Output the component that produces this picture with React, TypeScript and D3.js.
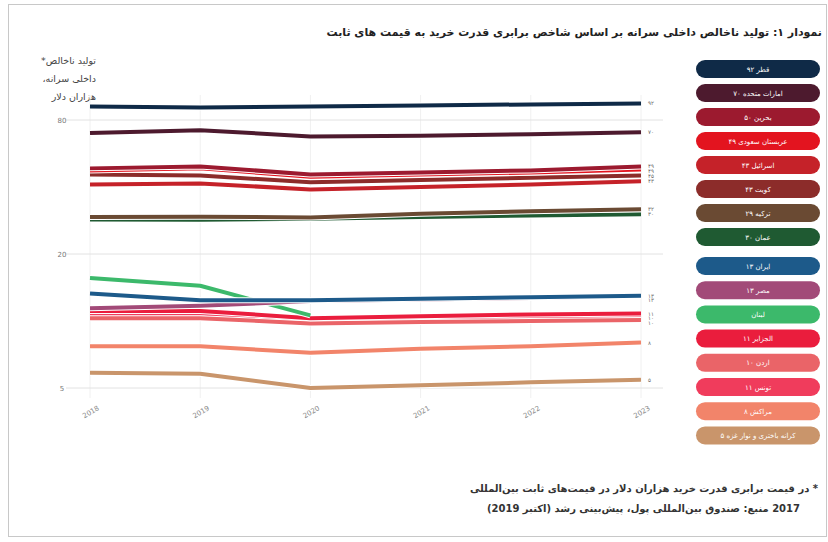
import React from "react";
import * as d3 from "d3";

const years = [2018, 2019, 2020, 2021, 2022, 2023];
const yTicks = [5, 20, 80];
const yTickLabels = ["5", "20", "80"];

const countryNames = [
  "قطر ۹۲",
  "امارات متحده ۷۰",
  "بحرین ۵۰",
  "عربستان سعودی ۴۹",
  "اسرائیل ۴۳",
  "کویت ۴۳",
  "ترکیه ۲۹",
  "عمان ۳۰",
  "ایران ۱۳",
  "مصر ۱۳",
  "لبنان",
  "الجزایر ۱۱",
  "اردن ۱۰",
  "تونس ۱۱",
  "مراکش ۸",
  "کرانه باختری و نوار غزه ۵",
];
const countryColors = [
  "#0f2a47", "#4d1a2e", "#9c1a2f", "#e3141f", "#c52229", "#8c2c2a", "#6a4a33", "#1f5a32",
  "#1d5a8a", "#a24a78", "#3cb96b", "#ea1d3d", "#ea6468", "#f03c5c", "#f2846a", "#c9956b",
];
const endLabels = ["۹۲", "۷۰", "۴۹", "۴۹", "۴۳", "۴۵", "۳۲", "۳۰", "۱۳", "۱۳", "", "۱۱", "۱۰", "۱۰", "۸", "۵"];

const qatar = [92, 91, 92, 93, 94, 95];
const uae = [70, 72, 67.5, 68, 69, 70.5];
const bahrain = [48.5, 49.5, 45.5, 46.5, 47.5, 49.5];
const saudi = [47.5, 48.5, 44.5, 45.5, 46.5, 48];
const israel = [41, 41.5, 39, 40, 41, 42.5];
const kuwait = [45.5, 45, 42, 43, 44, 45];
const turkey = [29.3, 29.4, 29.2, 30.3, 31.1, 31.8];
const oman = [28.6, 28.5, 28.8, 29.3, 29.8, 30.2];
const iran = [13.3, 12.4, 12.4, 12.6, 12.8, 13.0];
const egypt = [11.4, 11.7, 12.3, 12.5, 12.7, 13.0];
const lebanon = [15.6, 14.4, 10.6];
const algeria = [11.1, 11.1, 10.3, 10.5, 10.7, 10.8];
const jordan = [10.3, 10.3, 9.75, 9.9, 10.0, 10.1];
const tunisia = [10.7, 10.8, 10.0, 10.2, 10.3, 10.45];
const morocco = [7.7, 7.7, 7.2, 7.5, 7.7, 8.0];
const westBank = [5.85, 5.8, 5.0, 5.15, 5.3, 5.45];

const seriesValues = [
  qatar, uae, bahrain, saudi, israel, kuwait, turkey, oman,
  iran, egypt, lebanon, algeria, jordan, tunisia, morocco, westBank,
];

const yTitleLines = ["تولید ناخالص*", "داخلی سرانه،", "هزاران دلار"];

const FONT = "'DejaVu Sans', sans-serif";

export default function App() {
  const W = 828;
  const H = 542;
  const x = d3.scaleLinear().domain([2018, 2023]).range([90, 641]);
  const y = d3.scaleLog().domain([5, 80]).range([388, 120]);
  const line = d3
    .line<[number, number]>()
    .x((d) => x(d[0]))
    .y((d) => y(d[1]));

  const series = countryNames.map((name, i) => ({
    name,
    color: countryColors[i],
    label: endLabels[i],
    points: seriesValues[i].map((v, j) => [years[j], v] as [number, number]),
  }));

  const ends = series
    .map((s, i) => ({ i, s, yy: y(s.points[s.points.length - 1][1]), full: s.points.length === years.length }))
    .filter((e) => e.full && e.s.label)
    .sort((a, b) => a.yy - b.yy);
  for (let k = 1; k < ends.length; k++) {
    if (ends[k].yy - ends[k - 1].yy < 4.5) ends[k].yy = ends[k - 1].yy + 4.5;
  }

  const drawOrder = series.map((_, i) => i).reverse();

  return (
    <svg
      width={W}
      height={H}
      style={{ position: "absolute", left: 0, top: 0, background: "#fff" }}
      fontFamily={FONT}
    >
      <rect x={8.5} y={4.5} width={818} height={532} fill="none" stroke="#c8c8c8" strokeWidth={1} />

      {/* title */}
      <text x={822} y={36} direction="rtl" textAnchor="start" fontSize={11} fontWeight="bold" fill="#222">
        نمودار ۱: تولید ناخالص داخلی سرانه بر اساس شاخص برابری قدرت خرید به قیمت های ثابت
      </text>

      {/* y axis title */}
      {yTitleLines.map((t, i) => (
        <text key={i} x={96} y={64 + i * 18} direction="rtl" textAnchor="start" fontSize={9.5} fill="#444">
          {t}
        </text>
      ))}

      {/* grid */}
      {years.map((yr) => (
        <line key={yr} x1={x(yr)} x2={x(yr)} y1={95} y2={398} stroke="#f0f0f0" strokeWidth={1} />
      ))}
      {yTicks.map((t, i) => (
        <g key={t}>
          <line x1={66} x2={663} y1={y(t)} y2={y(t)} stroke="#e2e2e2" strokeWidth={1} />
          <text x={62} y={y(t) + 2.5} textAnchor="middle" fontSize={7} fill="#777">
            {yTickLabels[i]}
          </text>
        </g>
      ))}

      {/* x axis labels */}
      {years.map((yr) => (
        <text
          key={yr}
          transform={`translate(${x(yr) + 2},${414}) rotate(-30)`}
          textAnchor="middle"
          fontSize={7}
          fill="#888"
        >
          {yr}
        </text>
      ))}

      {/* lines */}
      {drawOrder.map((i) => {
        const s = series[i];
        const d = line(s.points) || "";
        return (
          <g key={s.name}>
            <path d={d} fill="none" stroke="#fff" strokeWidth={6} strokeLinejoin="round" />
            <path d={d} fill="none" stroke={s.color} strokeWidth={4} strokeLinejoin="round" />
          </g>
        );
      })}

      {/* end labels */}
      {ends.map((e) => (
        <text key={e.i} x={648} y={e.yy + 2} fontSize={5.5} fill="#666" textAnchor="start">
          {e.s.label}
        </text>
      ))}

      {/* legend */}
      {series.map((s, i) => {
        const cy = i < 8 ? 69 + i * 24 : 266 + (i - 8) * 24.2;
        return (
          <g key={s.name}>
            <rect x={696} y={cy - 9} width={124} height={18} rx={9} ry={9} fill={s.color} />
            <text x={758} y={cy + 2.5} textAnchor="middle" fontSize={7} fill="#fff">
              {s.name}
            </text>
          </g>
        );
      })}

      {/* footnote */}
      <text x={818} y={492} direction="rtl" textAnchor="start" fontSize={10} fontWeight="bold" fill="#333">
        * در قیمت برابری قدرت خرید هزاران دلار در قیمت‌های ثابت بین‌المللی
      </text>
      <text x={800} y={512} direction="rtl" textAnchor="start" fontSize={10} fontWeight="bold" fill="#333">
        2017 منبع: صندوق بین‌المللی پول، پیش‌بینی رشد (اکتبر 2019)
      </text>
    </svg>
  );
}
